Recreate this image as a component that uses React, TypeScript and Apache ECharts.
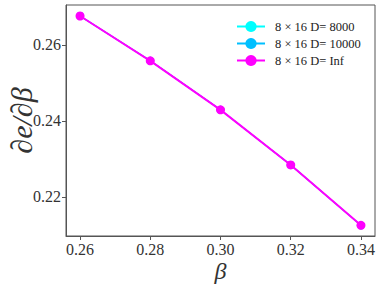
import React, { useEffect, useRef } from "react";
import * as echarts from "echarts";

const betas = [0.26, 0.28, 0.30, 0.32, 0.34];
const seriesNames = ["8 × 16 D= 8000", "8 × 16 D= 10000", "8 × 16 D= Inf"];
const seriesColors = ["#00ffff", "#00bfff", "#ff00ff"];
const valuesD8000 = [0.2676, 0.2558, 0.2429, 0.2284, 0.2125];
const valuesD10000 = [0.2676, 0.2558, 0.2429, 0.2284, 0.2125];
const valuesDInf = [0.2676, 0.2558, 0.2429, 0.2284, 0.2125];
const xTicks = [0.26, 0.28, 0.30, 0.32, 0.34];
const yTicks = [0.22, 0.24, 0.26];

const FONT = "Liberation Serif";
const AXIS_COLOR = "#555";

export default function App() {
  const ref = useRef<HTMLDivElement>(null);
  useEffect(() => {
    if (!ref.current) return;
    const chart = echarts.init(ref.current, undefined, { renderer: "svg" });
    const allValues = [valuesD8000, valuesD10000, valuesDInf];
    chart.setOption({
      animation: false,
      backgroundColor: "#fff",
      grid: {
        left: 66,
        top: 5,
        right: 7,
        bottom: 51,
        show: true,
        borderColor: AXIS_COLOR,
        borderWidth: 1,
        outerBoundsMode: "none",
        containLabel: false,
      },
      legend: {
        orient: "vertical",
        left: 231,
        top: 15,
        itemWidth: 28,
        itemHeight: 14,
        itemGap: 4,
        textStyle: { fontFamily: FONT, fontSize: 12.5, color: "#222", padding: [0, 0, 0, 5] },
        data: seriesNames,
      },
      xAxis: {
        type: "value",
        min: 0.256,
        max: 0.344,
        name: "β",
        nameLocation: "middle",
        nameGap: 23,
        nameMoveOverlap: false,
        nameTextStyle: { fontFamily: FONT, fontSize: 24, fontStyle: "italic", color: "#333" },
        axisLine: { show: true, lineStyle: { color: AXIS_COLOR } },
        axisTick: { show: true, length: 4, lineStyle: { color: AXIS_COLOR }, customValues: xTicks },
        splitLine: { show: false },
        axisLabel: {
          fontFamily: FONT,
          fontSize: 16,
          color: "#333",
          margin: 5,
          customValues: xTicks,
          formatter: (v: number) => v.toFixed(2),
        },
      },
      yAxis: {
        type: "value",
        min: 0.2097,
        max: 0.2705,
        name: "∂e/∂β",
        nameLocation: "middle",
        nameGap: 30,
        nameMoveOverlap: false,
        nameTextStyle: { fontFamily: FONT, fontSize: 30, fontStyle: "italic", color: "#333" },
        axisLine: { show: true, lineStyle: { color: AXIS_COLOR } },
        axisTick: { show: true, length: 4, lineStyle: { color: AXIS_COLOR }, customValues: yTicks },
        splitLine: { show: false },
        axisLabel: {
          fontFamily: FONT,
          fontSize: 16,
          color: "#333",
          margin: 5,
          customValues: yTicks,
          formatter: (v: number) => v.toFixed(2),
        },
      },
      series: seriesNames.map((name, i) => ({
        name,
        type: "line",
        data: betas.map((b, j) => [b, allValues[i][j]]),
        symbol: "circle",
        symbolSize: i === 2 ? 9 : 8,
        lineStyle: { width: i === 2 ? 2 : 1.2, color: seriesColors[i] },
        itemStyle: { color: seriesColors[i] },
        z: 2 + i,
      })),
    });
    return () => chart.dispose();
  }, []);
  return <div ref={ref} style={{ width: 382, height: 287, position: "absolute", left: 0, top: 0 }} />;
}
